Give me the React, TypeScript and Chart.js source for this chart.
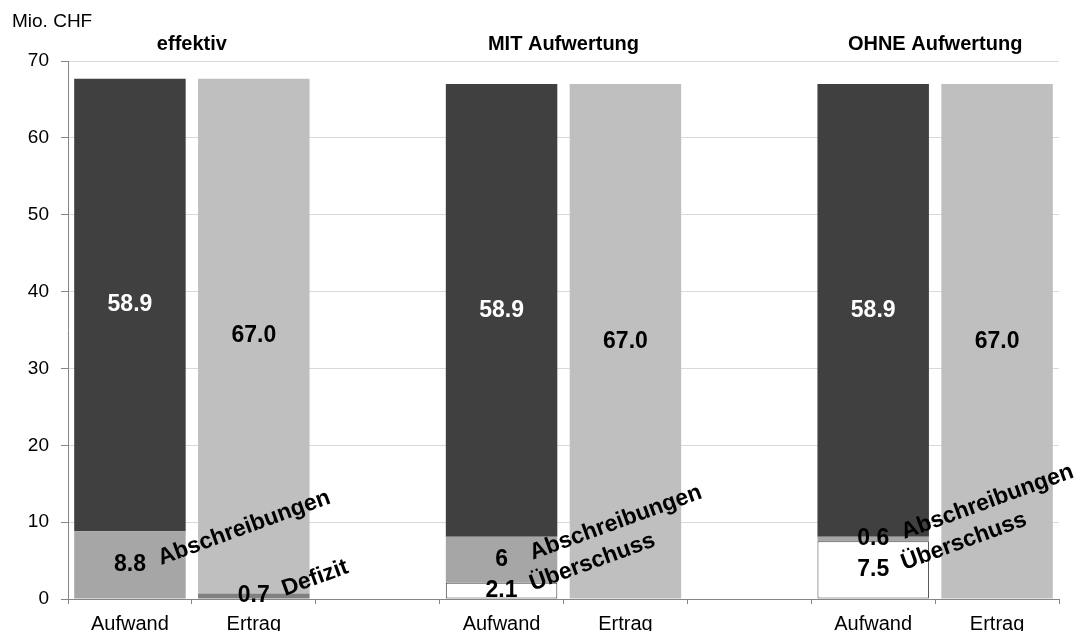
import React, { useEffect, useRef } from "react";
import { Chart, registerables } from "chart.js";

Chart.register(...registerables);

const categories = ["Aufwand", "Ertrag", "", "Aufwand", "Ertrag", "", "Aufwand", "Ertrag"];
const groupTitles = ["effektiv", "MIT Aufwertung", "OHNE Aufwertung"];
const groupStarts = [0, 3, 6];

const ueberschuss = [null, null, null, 2.1, null, null, 7.5, null];
const abschreibungen = [8.8, null, null, 6, null, null, 0.6, null];
const defizit = [null, 0.7, null, null, null, null, null, null];
const aufwandRest = [58.9, null, null, 58.9, null, null, 58.9, null];
const ertrag = [null, 67.0, null, null, 67.0, null, null, 67.0];

const yTicksMax = 70;
const yStep = 10;
const unitLabel = "Mio. CHF";

const FONT = "'Liberation Sans', Arial, sans-serif";

const labelPlugin = {
  id: "customLabels",
  afterDraw(chart: any) {
    const ctx = chart.ctx;
    const area = chart.chartArea;
    const xs = chart.scales.x;
    ctx.save();
    ctx.fillStyle = "#000";
    ctx.font = `19px ${FONT}`;
    ctx.textAlign = "left";
    ctx.textBaseline = "middle";
    ctx.fillText(unitLabel, 12, area.top - 39);
    ctx.font = `bold 20px ${FONT}`;
    ctx.textAlign = "center";
    groupStarts.forEach((s, i) => {
      const x = (xs.getPixelForValue(s) + xs.getPixelForValue(s + 1)) / 2;
      ctx.fillText(groupTitles[i], x, area.top - 17);
    });
    chart.data.datasets.forEach((ds: any, di: number) => {
      const meta = chart.getDatasetMeta(di);
      ds.data.forEach((v: any, i: number) => {
        if (v === null || v === undefined) return;
        const el = meta.data[i];
        const mid = (el.y + el.base) / 2;
        const txt = ds.decimals ? Number(v).toFixed(ds.decimals) : String(v);
        ctx.font = `bold 23px ${FONT}`;
        ctx.fillStyle = ds.labelColor;
        ctx.textAlign = "center";
        ctx.textBaseline = "middle";
        ctx.fillText(txt, el.x, mid);
        if (ds.showName) {
          ctx.save();
          ctx.translate(el.x + 29, mid - 6);
          ctx.rotate((-20 * Math.PI) / 180);
          ctx.fillStyle = "#000";
          ctx.textAlign = "left";
          ctx.textBaseline = "middle";
          ctx.fillText(ds.label, 0, 0);
          ctx.restore();
        }
      });
    });
    ctx.restore();
  },
};

export default function App() {
  const ref = useRef<HTMLCanvasElement>(null);
  useEffect(() => {
    document.body.style.margin = "0";
    const canvas = ref.current!;
    const chart = new Chart(canvas, {
      type: "bar",
      data: {
        labels: categories,
        datasets: [
          {
            label: "Überschuss",
            data: ueberschuss,
            backgroundColor: "#ffffff",
            borderColor: "#404040",
            borderWidth: 1,
            borderSkipped: false,
            labelColor: "#000",
            showName: true,
          } as any,
          {
            label: "Abschreibungen",
            data: abschreibungen,
            backgroundColor: "#a6a6a6",
            labelColor: "#000",
            showName: true,
          } as any,
          {
            label: "Defizit",
            data: defizit,
            backgroundColor: "#808080",
            labelColor: "#000",
            showName: true,
          } as any,
          {
            label: "Aufwand",
            data: aufwandRest,
            backgroundColor: "#404040",
            labelColor: "#ffffff",
            decimals: 1,
          } as any,
          {
            label: "Ertrag",
            data: ertrag,
            backgroundColor: "#bfbfbf",
            labelColor: "#000",
            decimals: 1,
          } as any,
        ],
      },
      options: {
        animation: false,
        responsive: false,
        devicePixelRatio: 1,
        layout: { padding: { top: 61, right: 24, left: 0, bottom: 0 } },
        datasets: { bar: { barPercentage: 0.9, categoryPercentage: 1 } },
        plugins: { legend: { display: false }, tooltip: { enabled: false } },
        scales: {
          x: {
            stacked: true,
            offset: true,
            grid: {
              offset: true,
              drawOnChartArea: false,
              drawTicks: true,
              tickLength: 5,
              tickColor: "#868686",
            },
            border: { color: "#868686", width: 1 },
            ticks: {
              color: "#000",
              font: { family: FONT, size: 20 },
              padding: 8,
              autoSkip: false,
              maxRotation: 0,
            },
            afterFit: (s: any) => {
              s.height = 51;
            },
          },
          y: {
            stacked: true,
            min: 0,
            max: yTicksMax,
            ticks: {
              stepSize: yStep,
              color: "#000",
              font: { family: FONT, size: 19 },
              padding: 12,
            },
            grid: {
              color: "#d9d9d9",
              tickColor: "#868686",
              tickLength: 7,
            },
            border: { color: "#868686", width: 1 },
            afterFit: (s: any) => {
              s.width = 68;
            },
          },
        },
      },
      plugins: [labelPlugin],
    } as any);
    return () => chart.destroy();
  }, []);
  return (
    <div style={{ position: "absolute", left: 0, top: 0, width: 1083, height: 650, background: "#fff" }}>
      <canvas ref={ref} width={1083} height={650} style={{ width: 1083, height: 650, display: "block" }} />
    </div>
  );
}
